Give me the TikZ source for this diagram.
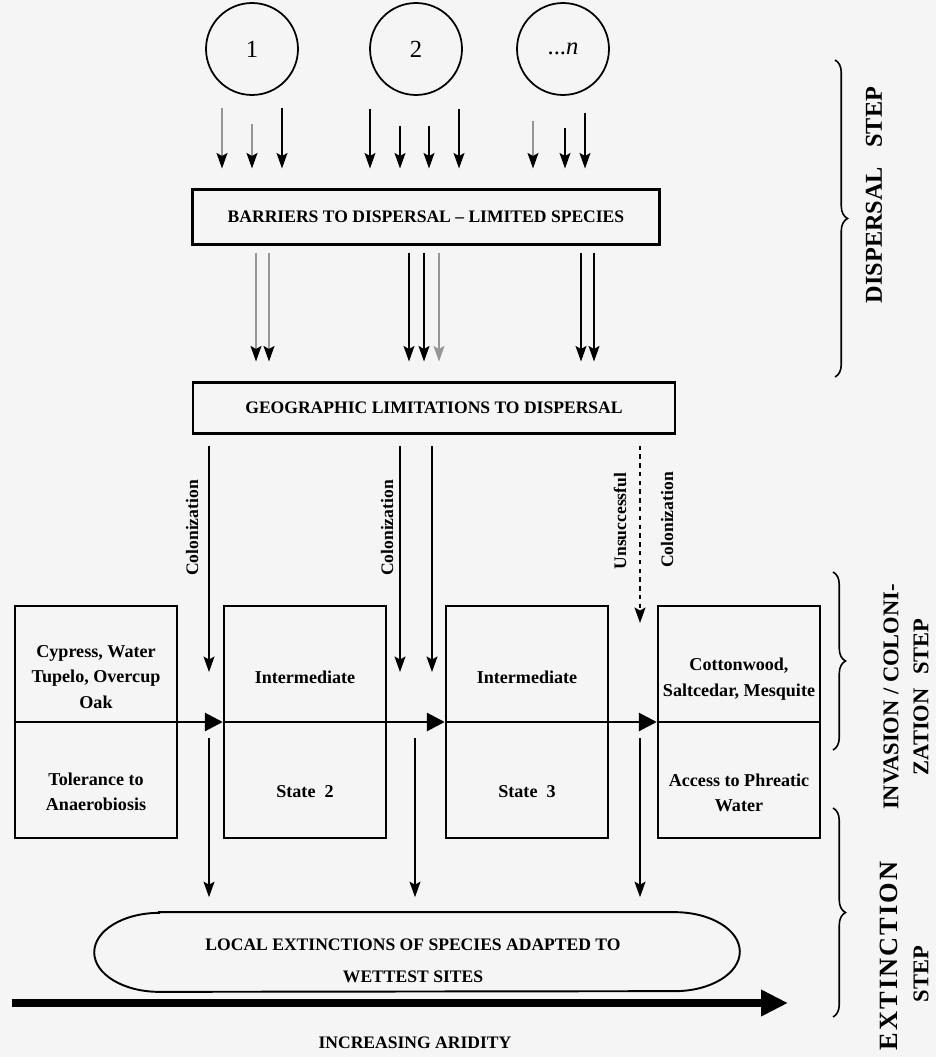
\documentclass[tikz,border=0pt]{standalone}
\usepackage{fontspec}
\setmainfont{Liberation Serif}
\newfontfamily\spacedserif[LetterSpace=8]{Liberation Serif}
\usetikzlibrary{arrows.meta,positioning,calc,decorations.pathreplacing}
\definecolor{paper}{RGB}{245,245,245}
\definecolor{faint}{RGB}{150,150,150}
\tikzset{
  arr/.style={-{Stealth[length=3.1mm,width=2.2mm,inset=0.6mm]}, line width=0.8pt},
  garr/.style={-{Stealth[length=3.1mm,width=2.2mm,inset=0.6mm,color=black]}, line width=0.8pt, draw=faint},
  farr/.style={arr, faint},
  dotarr/.style={arr, dash pattern=on 2.5pt off 2.5pt},
  src/.style={circle, draw, line width=1pt, minimum size=1.84cm, inner sep=0pt,
              font=\fontsize{14}{16}\selectfont},
  bar/.style={draw, line width=1.2pt, minimum height=1.1cm, font=\fontsize{10}{12}\selectfont\bfseries},
  stbox/.style={draw, line width=1.4pt, minimum width=3.24cm, minimum height=4.64cm},
  sttxt/.style={align=center, font=\fontsize{10.3}{14.5}\selectfont\bfseries},
  flowarr/.style={-{Triangle[length=3.6mm,width=3.6mm]}, line width=1.6pt},
  collab/.style={rotate=90, font=\fontsize{10}{12}\selectfont\bfseries},
  steplab/.style={rotate=90, align=center, font=\fontsize{12.8}{17}\selectfont\bfseries},
  brc/.style={decorate, decoration={brace, amplitude=2.5mm}, line width=0.9pt},
  bigarr/.style={-{Triangle[length=5.4mm,width=5mm]}, line width=4.5pt},
}
\begin{document}
\begin{tikzpicture}[x=0.02cm, y=-0.02cm]
  \useasboundingbox (0,0) rectangle (936,1057);
  \fill[paper] (0,0) rectangle (936,1057);

  % species pools
  \node[src] (s1) at (252,49) {1};
  \node[src] (s2) at (416,49) {2};
  \node[src] (sn) at (563,49) {...\textit{n}};

  \node[bar, minimum width=9.34cm] (bar) at (426,217) {BARRIERS TO DISPERSAL -- LIMITED SPECIES};
  \node[bar, minimum width=9.64cm, minimum height=1.02cm] (geo) at (434,408)
    {GEOGRAPHIC LIMITATIONS TO DISPERSAL};

  \foreach \dx/\dy/\st in {-30/12/garr, 0/28/garr, 30/12/arr}
    \draw[\st, shorten >=4mm] ($(s1.south)+(\dx,\dy)$) coordinate (t) -- (t |- bar.north);
  \foreach \dx/\dy/\st in {-46/13/arr, -16/30/arr, 13/30/arr, 43/13/arr}
    \draw[\st, shorten >=4mm] ($(s2.south)+(\dx,\dy)$) coordinate (t) -- (t |- bar.north);
  \foreach \dx/\dy/\st in {-30/25/garr, 2/32/arr, 22/17/arr}
    \draw[\st, shorten >=4mm] ($(sn.south)+(\dx,\dy)$) coordinate (t) -- (t |- bar.north);

  \foreach \dx/\st in {-170/garr, -157/garr, -17/arr, -2/arr, 13/farr, 155/arr, 168/arr}
    \draw[\st, shorten <=1.4mm, shorten >=4mm] ($(bar.south)+(\dx,0)$) coordinate (t) -- (t |- geo.north);

  % states along the gradient
  \node[stbox] (stA) at (96,722) {};
  \node[stbox] (stB) at (305,722) {};
  \node[stbox] (stC) at (527,722) {};
  \node[stbox] (stD) at (739,722) {};

  \node[sttxt] (tA1) at ($(stA)+(0,-45)$) {Cypress, Water\\Tupelo, Overcup\\Oak};
  \node[sttxt] (tA2) at ($(stA)+(0,70)$) {Tolerance to\\Anaerobiosis};
  \node[sttxt] (tB1) at ($(stB)+(0,-45)$) {Intermediate};
  \node[sttxt] (tB2) at ($(stB)+(0,70)$) {State~~2};
  \node[sttxt] (tC1) at ($(stC)+(0,-45)$) {Intermediate};
  \node[sttxt] (tC2) at ($(stC)+(0,70)$) {State~~3};
  \node[sttxt] (tD1) at ($(stD)+(0,-43)$) {Cottonwood,\\Saltcedar, Mesquite};
  \node[sttxt] (tD2) at ($(stD)+(0,71)$) {Access to Phreatic\\Water};

  \draw[flowarr] (stA.west) -- (stB.west);
  \draw[flowarr] (stB.west) -- (stC.west);
  \draw[flowarr] (stC.west) -- (stD.west);
  \draw[line width=1.2pt] (stD.west) -- (stD.east);

  \coordinate (gAB) at (209,722);
  \coordinate (gBCl) at (400,722);
  \coordinate (gBC) at (415,722);
  \coordinate (gBCr) at (432,722);
  \coordinate (gCD) at (640,722);

  \foreach \g in {gAB,gBCl,gBCr}
    \draw[arr, shorten <=2.2mm] (\g |- geo.south) -- ($(\g)+(0,-50)$);
  \draw[dotarr, shorten <=2.2mm] (gCD |- geo.south) -- ($(gCD)+(0,-99)$);

  \node[collab] (col1) at (192,528) {Colonization};
  \node[collab] (col2) at (387,528) {Colonization};
  \node[collab] (uns) at (620,521) {Unsuccessful};
  \node[collab] (col3) at (667,520) {Colonization};

  % extinction
  \node[minimum width=12.9cm, minimum height=1.58cm, inner sep=0pt] (ext) at (417,952) {};
  \draw[line width=1.1pt] ([xshift=1.3cm]ext.north west) -- ([xshift=-1.3cm]ext.north east)
    arc[start angle=90, end angle=-90, x radius=1.3cm, y radius=0.79cm]
    -- ([xshift=1.3cm]ext.south west)
    arc[start angle=270, end angle=90, x radius=1.3cm, y radius=0.79cm] -- cycle;
  \node[align=center, font=\fontsize{10}{18}\selectfont\bfseries] (extlbl) at ($(ext)+(-4,9)$)
    {LOCAL EXTINCTIONS OF SPECIES ADAPTED TO\\WETTEST SITES};

  \foreach \g in {gAB,gBC,gCD}
    \draw[arr, shorten >=3mm] ($(\g)+(0,16)$) -- (\g |- ext.north);

  \coordinate (aL) at (12,1003);
  \coordinate (aR) at (788,1003);
  \draw[bigarr] (aL) -- (aR);
  \node[font=\fontsize{10}{12}\selectfont\bfseries] (arid) at (415,1043) {INCREASING ARIDITY};

  % steps
  \draw[brc] (835,60) -- (835,377);
  \draw[brc] (833,572) -- (833,750);
  \draw[brc] (833,808) -- (833,1017);
  \node[steplab, font=\fontsize{13.8}{17}\selectfont\bfseries] (dsp) at (874,195) {DISPERSAL\hspace{0.8em}STEP};
  \node[steplab] (inv) at (906,697) {INVASION / COLONI-\\ZATION\hspace{0.6em}STEP};
  \node[steplab, font=\fontsize{15}{17}\selectfont\spacedserif\bfseries] (ext1) at (889,956) {EXTINCTION};
  \node[steplab] (ext2) at (921,974) {STEP};
\end{tikzpicture}
\end{document}
